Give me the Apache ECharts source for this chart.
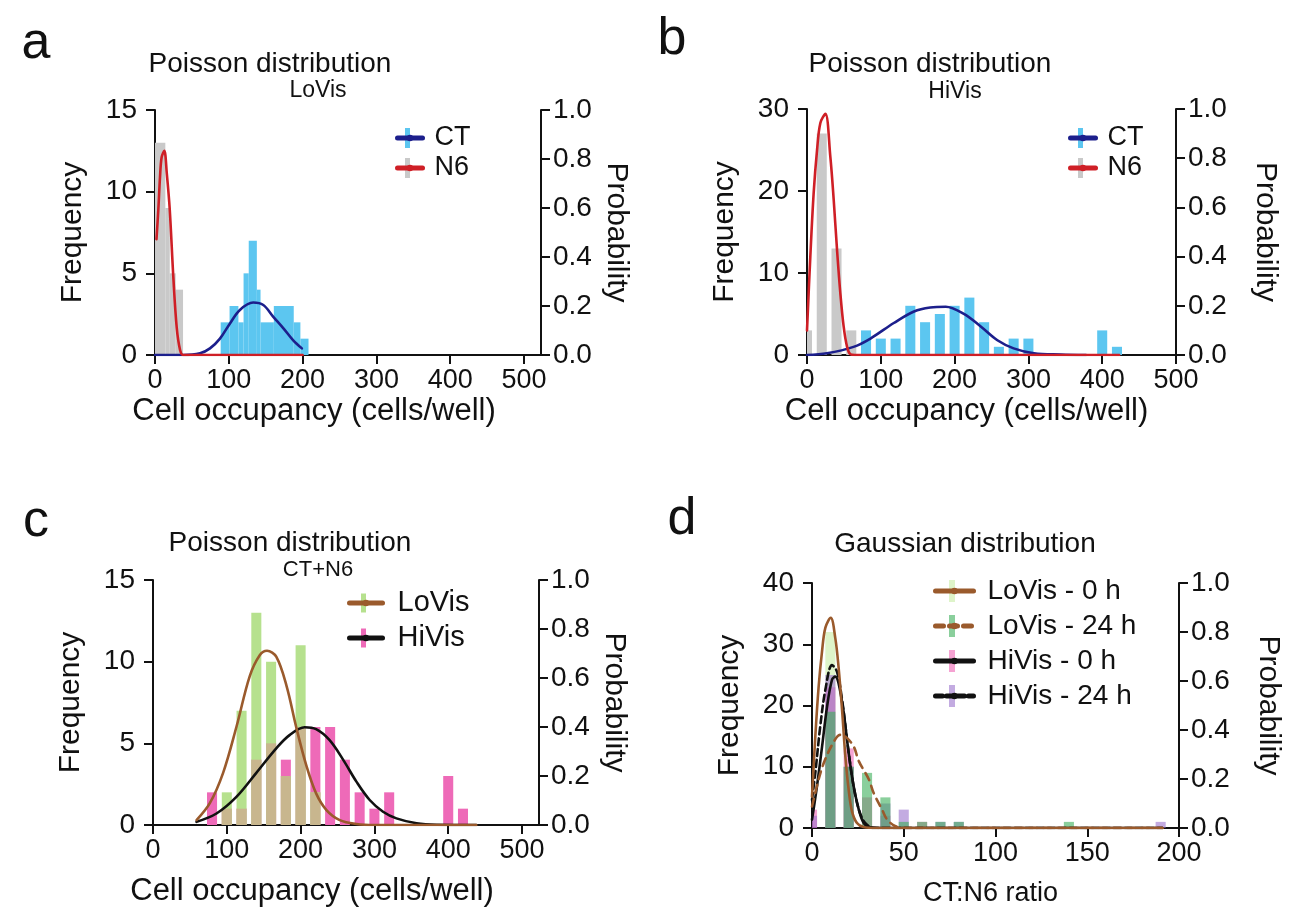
<!DOCTYPE html>
<html><head><meta charset="utf-8">
<script src="https://cdn.jsdelivr.net/npm/echarts@6/dist/echarts.min.js"></script>
<style>html,body{margin:0;padding:0;background:#fff}#c{width:1295px;height:922px}</style>
</head><body><div id="c"></div>
<script>
// ---------- Panel a : LoVis ----------
const aN6Edges = [0, 14, 20, 28, 38];
const aN6Counts = [13, 9, 5, 4];
const aCTEdges = [89, 101, 113, 120, 127, 138, 143, 161, 188, 197, 208];
const aCTCounts = [2, 3, 2, 5, 7, 4, 2, 3, 2, 1];
const aCTCurve = [[0,0],[38,0],[61,0.007],[74.5,0.027],[88,0.067],[101.6,0.129],[115,0.184],[133,0.214],[146.7,0.204],[160,0.157],[174,0.109],[187,0.061],[199,0.027]];
const aN6Curve = [[2,0.473],[4.5,0.593],[6.8,0.727],[9,0.807],[12.6,0.833],[16,0.74],[20,0.593],[24.8,0.32],[29.4,0.113],[34,0.02],[38,0],[100,0],[200,0]];

// ---------- Panel b : HiVis ----------
const bN6Bins = [0, 20, 40, 60];
const bN6Counts = [3, 27, 13, 3];
const bCTBins = [80, 100, 120, 140, 160, 180, 200, 220, 240, 260, 280, 300, 400, 420];
const bCTCounts = [3, 2, 2, 6, 4, 5, 6, 7, 4, 1, 2, 2, 3, 1];
const bCTCurve = [[0,0],[27,0.007],[63,0.033],[86,0.067],[117.6,0.13],[145,0.177],[167,0.193],[188,0.196],[212.6,0.167],[235,0.117],[258,0.06],[280,0.027],[307.5,0.007],[344,0.002],[378,0]];
const bN6Curve = [[0,0.1],[4.5,0.4],[9,0.657],[13.6,0.833],[18.1,0.943],[24.9,0.98],[31.6,0.806],[36.2,0.63],[40.7,0.427],[45.2,0.25],[49.7,0.115],[54.3,0.033],[58.8,0.003],[65,0],[200,0],[423,0]];

// ---------- Panel c : CT+N6 ----------
const cBins = [80,100,120,140,160,180,200,220,240,260,280,300,320,340,360,380,400,420];
const cLoVisCounts = [0,2,7,13,10,3,11,2,0,0,0,0,0,0,0,0,0,0];
const cHiVisCounts = [2,1,1,4,5,4,6,6,6,4,2,1,2,0,0,0,3,1];
const cLoVisCurve = [[59,0.02],[77,0.089],[95,0.213],[113,0.4],[131,0.607],[144.6,0.693],[154.5,0.711],[167,0.687],[181,0.567],[194,0.4],[208,0.24],[221,0.129],[235,0.061],[253,0.02],[275.7,0.004],[300,0],[438,0]];
const cHiVisCurve = [[59,0.013],[86,0.047],[113,0.115],[140,0.213],[167,0.313],[185,0.367],[205.5,0.399],[221,0.391],[239,0.347],[257.5,0.267],[275.6,0.177],[293.6,0.102],[311.7,0.054],[329.8,0.027],[357,0.007],[384,0.001],[438,0]];

// ---------- Panel d : CT:N6 ratio ----------
const dBins = [0,10,20,30,40,50,60,70,80,90,100,110,120,130,140,150,160,170,180,190];
const dLo0Counts  = [0,32,10,0,0,0,0,0,0,0,0,0,0,0,0,0,0,0,0,0];
const dLo24Counts = [0,19,10,9,5,1,1,1,1,0,0,0,0,0,1,0,0,0,0,0];
const dHi0Counts  = [3,23,13,5,2,0,1,0,0,0,0,0,0,0,0,0,0,0,0,0];
const dHi24Counts = [2,25,10,0,4,3,0,1,1,0,0,0,0,0,0,0,0,0,0,1];
const dLo0Curve = [[0,0.128],[1.8,0.373],[3.6,0.575],[5.5,0.723],[7.3,0.818],[10.2,0.858],[12.7,0.775],[14.5,0.655],[16.4,0.48],[18.2,0.29],[20,0.155],[21.8,0.068],[24.5,0.02],[28,0.004],[35,0],[191,0]];
const dLo24Curve = [[0,0.088],[3.6,0.198],[6.4,0.265],[11,0.34],[15.4,0.38],[18,0.375],[22.7,0.333],[25.5,0.273],[31,0.198],[33.6,0.143],[38.2,0.075],[41,0.034],[45.5,0.007],[50,0],[191,0]];
const dHi0Curve = [[0,0.034],[2.7,0.17],[5.5,0.333],[8.2,0.495],[10.9,0.605],[12.7,0.618],[14.5,0.59],[17.3,0.47],[20,0.305],[22.7,0.17],[25.5,0.075],[28.2,0.02],[31.8,0.003],[40,0],[191,0]];
const dHi24Curve = [[0,0.115],[1.8,0.225],[4.5,0.415],[7.3,0.565],[10.9,0.665],[13.6,0.638],[16.4,0.523],[19.1,0.36],[21.8,0.21],[24.5,0.103],[27.3,0.04],[30,0.013],[33.6,0],[191,0]];

// tick labels
const occTicks = [0, 100, 200, 300, 400, 500];
const probTicks = [0, 0.2, 0.4, 0.6, 0.8, 1.0];

// ---------- helpers ----------
const FONT = '"Liberation Sans", Arial, Helvetica, sans-serif';
const INK = '#111';
const fromEdges = (edges, counts) => counts.map((c, i) => [edges[i], edges[i + 1], c]).filter(d => d[2] > 0);
const fromCenters = (centers, counts, w) => counts.map((c, i) => [centers[i] - w / 2, centers[i] + w / 2, c]).filter(d => d[2] > 0);

const grids = [
  {left: 155, top: 110, width: 386, height: 245},
  {left: 807, top: 109, width: 369, height: 246},
  {left: 153, top: 580, width: 386, height: 245},
  {left: 812, top: 583, width: 367, height: 245}
];

function xAx(gi, max, interval, name, nameGap, nameSize, shift, ticks) {
  const ax = {type: 'value', gridIndex: gi, min: 0, max, interval, name, nameLocation: 'middle', nameGap,
    nameTextStyle: {fontSize: nameSize, color: INK, fontFamily: FONT, padding: [0, shift, 0, 0]},
    axisLine: {show: true, onZero: false, lineStyle: {color: INK, width: 2}},
    axisTick: {show: true, length: 9, lineStyle: {color: INK, width: 2}},
    axisLabel: {fontSize: 27, color: INK, margin: 12, fontFamily: FONT},
    splitLine: {show: false}};
  if (ticks) {
    ax.axisTick.customValues = ticks;
    ax.axisLabel.customValues = ticks;
    ax.axisLabel.formatter = v => (ticks.includes(v) ? String(v) : '');
  }
  return ax;
}
function yAx(gi, max, interval, name, nameGap, right) {
  return {type: 'value', gridIndex: gi, min: 0, max, interval, position: right ? 'right' : 'left',
    name, nameLocation: 'middle', nameGap, nameRotate: right ? -90 : 90,
    nameTextStyle: {fontSize: 30, color: INK, fontFamily: FONT},
    axisLine: {show: true, onZero: false, lineStyle: {color: INK, width: 2}},
    axisTick: {show: true, length: 9, lineStyle: {color: INK, width: 2}},
    axisLabel: {fontSize: 28, color: INK, margin: right ? 12 : 18, fontFamily: FONT,
      formatter: right ? (v => probTicks.includes(+v.toFixed(1)) ? v.toFixed(1) : '') : null},
    splitLine: {show: false}};
}

function hist(name, gi, data, color, z) {
  return {type: 'custom', name, xAxisIndex: gi, yAxisIndex: gi * 2, data, clip: true, silent: true,
    encode: {x: [0, 1], y: 2}, itemStyle: {color}, z: z || 2,
    renderItem: (params, api) => {
      const p0 = api.coord([api.value(0), api.value(2)]);
      const p1 = api.coord([api.value(1), 0]);
      return {type: 'rect', shape: {x: p0[0], y: p0[1], width: p1[0] - p0[0], height: p1[1] - p0[1]},
        style: {fill: color}};
    }};
}
function curve(name, gi, data, color, type, z) {
  return {type: 'line', name, xAxisIndex: gi, yAxisIndex: gi * 2 + 1, data, smooth: 0.35, symbol: 'none',
    silent: true, lineStyle: {color, width: 2.6, type: type || 'solid', cap: 'round'}, itemStyle: {color}, z: z || 5};
}
function legendPair(lineNames, barNames, left, top, iconW, barW, barH, fontSize, lineH, gap, pad) {
  return [
    {data: barNames, orient: 'vertical', left: left + (iconW - barW) / 2, top, padding: 0,
      itemWidth: barW, itemHeight: barH, itemGap: gap, icon: 'rect', selectedMode: false, z: 3,
      formatter: n => n.replace(' hist', ''),
      textStyle: {fontSize, lineHeight: lineH, color: 'rgba(0,0,0,0)', fontFamily: FONT}},
    {data: lineNames, orient: 'vertical', left, top, padding: 0,
      itemWidth: iconW, itemHeight: 8, itemGap: gap, selectedMode: false, z: 4,
      lineStyle: {width: 5},
      textStyle: {fontSize, lineHeight: lineH, color: INK, fontFamily: FONT, padding: [0, 0, 0, pad]}}
  ];
}

// colours
const GREY = '#c9c9c9', BLUE = '#5cc6f0', NAVY = '#1c1f8c', RED = '#cf1f26';
const GREEN = '#b6e18e', PINK = '#ee6ab8', TAN = '#c8b68e', BROWN = '#9a5a2c';
const D_LO0 = 'rgba(200,236,165,0.6)', D_LO24 = 'rgba(60,175,90,0.6)', D_HI0 = 'rgba(238,100,180,0.6)', D_HI24 = 'rgba(155,115,205,0.6)';

const cOverlap = cBins.map((b, i) => Math.min(cLoVisCounts[i], cHiVisCounts[i]));

const series = [
  // a
  hist('N6 hist', 0, fromEdges(aN6Edges, aN6Counts), GREY),
  hist('CT hist', 0, fromEdges(aCTEdges, aCTCounts), BLUE),
  curve('CT', 0, aCTCurve, NAVY, 'solid', 5),
  curve('N6', 0, aN6Curve, RED, 'solid', 6),
  // b
  hist('N6 hist b', 1, fromCenters(bN6Bins, bN6Counts, 13.6), GREY),
  hist('CT hist b', 1, fromCenters(bCTBins, bCTCounts, 13.6), BLUE),
  curve('CT b', 1, bCTCurve, NAVY, 'solid', 5),
  curve('N6 b', 1, bN6Curve, RED, 'solid', 6),
  // c
  hist('HiVis hist', 2, fromCenters(cBins, cHiVisCounts, 13.6), PINK, 2),
  hist('LoVis hist', 2, fromCenters(cBins, cLoVisCounts, 13.6), GREEN, 3),
  hist('overlap', 2, fromCenters(cBins, cOverlap, 13.6), TAN, 4),
  curve('HiVis', 2, cHiVisCurve, '#111', 'solid', 5),
  curve('LoVis', 2, cLoVisCurve, BROWN, 'solid', 6),
  // d  (drawing order: light green, pink, lavender, mint)
  hist('LoVis - 0 h hist', 3, fromCenters(dBins, dLo0Counts, 5.5), D_LO0, 2),
  hist('HiVis - 0 h hist', 3, fromCenters(dBins, dHi0Counts, 5.5), D_HI0, 3),
  hist('HiVis - 24 h hist', 3, fromCenters(dBins, dHi24Counts, 5.5), D_HI24, 3),
  hist('LoVis - 24 h hist', 3, fromCenters(dBins, dLo24Counts, 5.5), D_LO24, 3),
  curve('HiVis - 24 h', 3, dHi24Curve, '#111', [7, 4], 5),
  curve('HiVis - 0 h', 3, dHi0Curve, '#111', 'solid', 5),
  curve('LoVis - 24 h', 3, dLo24Curve, BROWN, [8, 6], 6),
  curve('LoVis - 0 h', 3, dLo0Curve, BROWN, 'solid', 6)
];

const legends = [].concat(
  legendPair(['CT', 'N6'], ['CT hist', 'N6 hist'], 395, 124, 25, 5, 20, 27, 28, 2, 7),
  legendPair(['CT b', 'N6 b'], ['CT hist b', 'N6 hist b'], 1068, 124, 25, 5, 20, 27, 28, 2, 7),
  legendPair(['LoVis', 'HiVis'], ['LoVis hist', 'HiVis hist'], 347, 588, 33, 5, 19, 29, 30, 5, 10),
  legendPair(['LoVis - 0 h', 'LoVis - 24 h', 'HiVis - 0 h', 'HiVis - 24 h'],
             ['LoVis - 0 h hist', 'LoVis - 24 h hist', 'HiVis - 0 h hist', 'HiVis - 24 h hist'],
             933, 576, 38, 6, 22, 28, 30, 5, 9)
);
legends[3].formatter = n => n.replace(' b', '');

function txt(x, y, text, size) {
  return {type: 'text', x, y, silent: true, z: 10,
    style: {text, fontSize: size, fontFamily: FONT, fill: INK, align: 'center', verticalAlign: 'middle',
      textAlign: 'center', textVerticalAlign: 'middle'}};
}

const option = {
  backgroundColor: '#fff',
  animation: false,
  grid: grids,
  xAxis: [
    xAx(0, 523, 100, 'Cell occupancy (cells/well)', 41, 31, 68, occTicks),
    xAx(1, 500, 100, 'Cell occupancy (cells/well)', 41, 31, 50, null),
    xAx(2, 523, 100, 'Cell occupancy (cells/well)', 51, 31, 68, occTicks),
    xAx(3, 200, 50, 'CT:N6 ratio', 52, 27, 10, null)
  ],
  yAxis: [
    yAx(0, 15, 5, 'Frequency', 67, false), yAx(0, 1, 0.2, 'Probability', 60, true),
    yAx(1, 30, 10, 'Frequency', 67, false), yAx(1, 1, 0.2, 'Probability', 74, true),
    yAx(2, 15, 5, 'Frequency', 67, false), yAx(2, 1, 0.2, 'Probability', 60, true),
    yAx(3, 40, 10, 'Frequency', 67, false), yAx(3, 1, 0.2, 'Probability', 74, true)
  ],
  legend: legends,
  graphic: [
    txt(36, 44, 'a', 52), txt(672, 40, 'b', 52), txt(36, 522, 'c', 52), txt(682, 520, 'd', 52),
    txt(270, 64, 'Poisson distribution', 28), txt(318, 91, 'LoVis', 23),
    txt(930, 64, 'Poisson distribution', 28), txt(955, 92, 'HiVis', 23),
    txt(290, 543, 'Poisson distribution', 28), txt(318, 570, 'CT+N6', 22),
    txt(965, 544, 'Gaussian distribution', 28)
  ],
  series
};

const chart = echarts.init(document.getElementById('c'), null, {renderer: 'canvas'});
chart.setOption(option);
</script></body></html>
